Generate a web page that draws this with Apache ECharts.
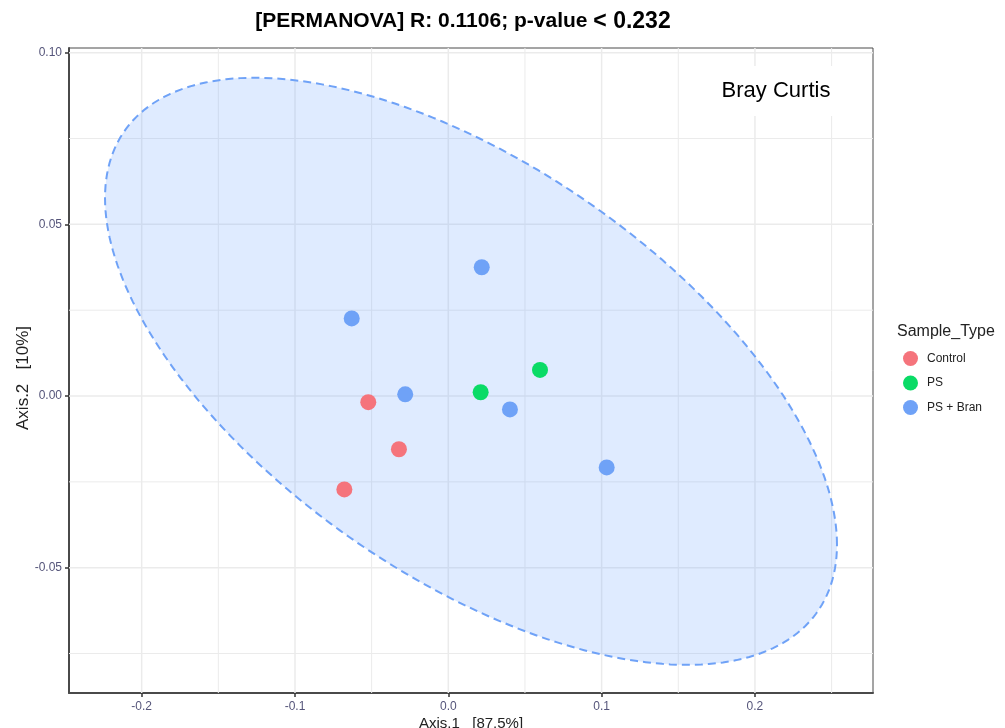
<!DOCTYPE html>
<html>
<head>
<meta charset="utf-8">
<title>PCoA – Bray Curtis</title>
<script src="https://cdn.jsdelivr.net/npm/echarts@6/dist/echarts.min.js"></script>
<style>
  html, body { margin: 0; padding: 0; background: #ffffff; }
  #chart { width: 1005px; height: 728px; }
</style>
</head>
<body>
<div id="chart"></div>
<script>
// Ordination scores (Axis.1, Axis.2) per sample group
const controlPts = [[-0.0522, -0.0018], [-0.0322, -0.0155], [-0.0678, -0.0272]];
const psPts = [[0.0211, 0.0011], [0.0598, 0.0076]];
const psBranPts = [[0.0218, 0.0375], [-0.0630, 0.0226], [-0.0281, 0.0005], [0.0402, -0.0039], [0.1033, -0.0208]];

const groupNames = ['Control', 'PS', 'PS + Bran'];
const groupColors = ['#F5747C', '#0ADB66', '#6FA2F7'];

// Tick positions and grid lines
const xTicks = [-0.2, -0.1, 0, 0.1, 0.2];
const yTicks = [-0.05, 0, 0.05, 0.1];
const xMinor = [-0.15, -0.05, 0.05, 0.15, 0.25];
const yMinor = [-0.075, -0.025, 0.025, 0.075];

// Confidence ellipse of the PS + Bran group: centre and shape (covariance-like) matrix
const ellipseCenter = [0.0148, 0.0072];
const ellipseShape = [[0.05698, -0.01205], [-0.01205, 0.00731]];

const xRange = [-0.2474, 0.2770];
const yRange = [-0.0865, 0.10137];

const FONT = 'Liberation Sans, Arial, sans-serif';

const chart = echarts.init(document.getElementById('chart'), null, { renderer: 'canvas' });

function gridRender(params, api) {
  const children = [];
  const x0 = xRange[0], x1 = xRange[1], y0 = yRange[0], y1 = yRange[1];
  const add = (p, q, w) => children.push({
    type: 'line',
    shape: { x1: p[0], y1: p[1], x2: q[0], y2: q[1] },
    style: { stroke: '#EBEBEB', lineWidth: w }
  });
  xMinor.forEach(v => add(api.coord([v, y0]), api.coord([v, y1]), 1));
  yMinor.forEach(v => add(api.coord([x0, v]), api.coord([x1, v]), 1));
  xTicks.forEach(v => add(api.coord([v, y0]), api.coord([v, y1]), 1.5));
  yTicks.forEach(v => add(api.coord([x0, v]), api.coord([x1, v]), 1.5));
  return { type: 'group', children };
}

function ellipseRender(params, api) {
  const a = ellipseShape[0][0], b = ellipseShape[0][1], d = ellipseShape[1][1];
  const l11 = Math.sqrt(a);
  const l21 = b / l11;
  const l22 = Math.sqrt(d - l21 * l21);
  const pts = [];
  const n = 240;
  for (let i = 0; i < n; i++) {
    const t = (i / n) * Math.PI * 2;
    const c = Math.cos(t), s = Math.sin(t);
    pts.push(api.coord([ellipseCenter[0] + l11 * c, ellipseCenter[1] + l21 * c + l22 * s]));
  }
  return {
    type: 'polygon',
    shape: { points: pts },
    style: {
      fill: 'rgba(97,156,255,0.2)',
      stroke: '#6FA2F7',
      lineWidth: 2,
      lineDash: [8, 5]
    }
  };
}

const tickLabelColor = '#55557A';

const option = {
  backgroundColor: '#ffffff',
  animation: false,
  title: {
    text: '{a|[PERMANOVA] R: 0.1106; p-value }{b|< 0.232}',
    left: 458,
    top: 5,
    textAlign: 'center',
    textStyle: {
      rich: {
        a: { fontFamily: FONT, fontWeight: 'bold', fontSize: 21, color: '#000' },
        b: { fontFamily: FONT, fontWeight: 'bold', fontSize: 23, color: '#000' }
      }
    }
  },
  grid: {
    left: 69, top: 48, width: 804, height: 645,
    show: true, borderColor: '#4A4A4A', borderWidth: 1, backgroundColor: '#ffffff'
  },
  legend: {
    orient: 'vertical',
    left: 898,
    top: 346,
    itemWidth: 15,
    itemHeight: 15,
    itemGap: 9.5,
    icon: 'circle',
    data: groupNames,
    textStyle: { fontFamily: FONT, fontSize: 12, color: '#222', padding: [0, 0, 0, 4] }
  },
  xAxis: {
    type: 'value',
    min: xRange[0],
    max: xRange[1],
    splitLine: { show: false },
    axisLine: { show: true, onZero: false, lineStyle: { color: '#4A4A4A', width: 2 } },
    axisTick: { show: true, customValues: xTicks, length: 4, lineStyle: { color: '#333', width: 1.5 } },
    axisLabel: {
      customValues: xTicks,
      color: tickLabelColor,
      fontFamily: FONT,
      fontSize: 12,
      margin: 8,
      formatter: v => v.toFixed(1)
    }
  },
  yAxis: {
    type: 'value',
    min: yRange[0],
    max: yRange[1],
    splitLine: { show: false },
    axisLine: { show: true, onZero: false, lineStyle: { color: '#4A4A4A', width: 2 } },
    axisTick: { show: true, customValues: yTicks, length: 4, lineStyle: { color: '#333', width: 1.5 } },
    axisLabel: {
      customValues: yTicks,
      color: tickLabelColor,
      fontFamily: FONT,
      fontSize: 12,
      margin: 7,
      formatter: v => v.toFixed(2)
    }
  },
  graphic: [
    {
      type: 'text', left: 897, top: 324,
      style: { text: 'Sample_Type', fontFamily: FONT, fontSize: 16, fill: '#222' }
    },
    {
      type: 'text', x: 23, y: 378, rotation: Math.PI / 2,
      style: {
        text: 'Axis.2   [10%]', fontFamily: FONT, fontSize: 17,
        fill: '#222', align: 'center', verticalAlign: 'middle'
      }
    },
    {
      type: 'text', x: 471, y: 724,
      style: {
        text: 'Axis.1   [87.5%]', fontFamily: FONT, fontSize: 15,
        fill: '#222', align: 'center', verticalAlign: 'middle'
      }
    },
    {
      type: 'text', x: 776, y: 91, z: 100,
      style: {
        text: 'Bray Curtis', fontFamily: FONT, fontSize: 22,
        fill: '#000', align: 'center', verticalAlign: 'middle',
        backgroundColor: '#ffffff', padding: [14, 20]
      }
    }
  ],
  series: [
    {
      type: 'custom', name: 'grid-lines', silent: true, z: 1,
      renderItem: gridRender, data: [0], clip: true
    },
    {
      type: 'custom', name: 'ellipse', silent: true, z: 2,
      renderItem: ellipseRender, data: [0], clip: true
    },
    {
      type: 'scatter', name: groupNames[0], data: controlPts, symbolSize: 16, z: 5,
      itemStyle: { color: groupColors[0], opacity: 1 }
    },
    {
      type: 'scatter', name: groupNames[1], data: psPts, symbolSize: 16, z: 5,
      itemStyle: { color: groupColors[1], opacity: 1 }
    },
    {
      type: 'scatter', name: groupNames[2], data: psBranPts, symbolSize: 16, z: 5,
      itemStyle: { color: groupColors[2], opacity: 1 }
    }
  ]
};

chart.setOption(option);
</script>
</body>
</html>
